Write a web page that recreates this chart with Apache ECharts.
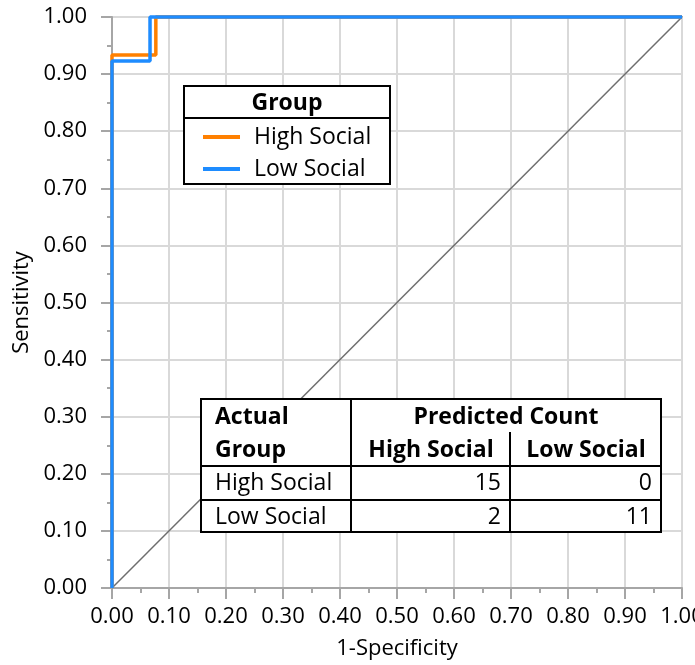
<!DOCTYPE html>
<html>
<head>
<meta charset="utf-8">
<script src="https://cdn.jsdelivr.net/npm/echarts@6/dist/echarts.min.js"></script>
<style>
html, body { margin: 0; padding: 0; background: #fff; }
#chart { width: 695px; height: 665px; }
</style>
</head>
<body>
<div id="chart"></div>
<script>
// ROC curves (1-Specificity, Sensitivity)
var highSocialRoc = [[0, 0], [0, 0.9333], [0.0769, 0.9333], [0.0769, 1], [1, 1]];
var lowSocialRoc = [[0, 0], [0, 0.9231], [0.0667, 0.9231], [0.0667, 1], [1, 1]];
var diagonal = [[0, 0], [1, 1]];

var groupNames = ['High Social', 'Low Social'];
var groupColors = ['#FF8000', '#1E8CFF'];
var predictedCounts = [[15, 0], [2, 11]]; // rows: actual, cols: predicted

var FONT = 'Open Sans';
var FS = 22;

var myChart = echarts.init(document.getElementById('chart'));

function txt(x, y, s, opts) {
	opts = opts || {};
	return {
		type: 'text', x: x, y: y, z: 20,
		style: {
			text: s, fill: '#000', fontFamily: FONT, fontSize: opts.size || 23,
			fontWeight: opts.bold ? 'bold' : 'normal',
			align: opts.align || 'left', verticalAlign: 'middle'
		}
	};
}
function line(x1, y1, x2, y2, color, w) {
	return {
		type: 'line', z: 20,
		shape: { x1: x1, y1: y1, x2: x2, y2: y2 },
		style: { stroke: color || '#000', lineWidth: w || 2 }
	};
}

// legend box
var graphics = [
	{ type: 'rect', z: 19, shape: { x: 184, y: 86, width: 206, height: 98 },
	  style: { fill: '#fff', stroke: '#000', lineWidth: 2 } },
	line(184, 118, 390, 118),
	txt(287, 103, 'Group', { bold: true, align: 'center' })
];
groupNames.forEach(function(name, i) {
	var y = 137 + i * 32;
	graphics.push(line(203, y, 240, y, groupColors[i], 4));
	graphics.push(txt(254, y, name));
});

// classification table
graphics.push(
	{ type: 'rect', z: 19, shape: { x: 201, y: 399, width: 460, height: 133 },
	  style: { fill: '#fff', stroke: '#000', lineWidth: 2 } },
	line(351, 399, 351, 532),
	line(510, 432, 510, 532),
	line(201, 466, 661, 466),
	line(201, 500, 661, 500),
	txt(215, 417, 'Actual', { bold: true }),
	txt(215, 450, 'Group', { bold: true }),
	txt(506, 417, 'Predicted Count', { bold: true, align: 'center' }),
	txt(431, 450, groupNames[0], { bold: true, align: 'center' }),
	txt(586, 450, groupNames[1], { bold: true, align: 'center' })
);
groupNames.forEach(function(name, i) {
	var y = 483 + i * 34;
	graphics.push(txt(215, y, name));
	graphics.push(txt(501, y, String(predictedCounts[i][0]), { align: 'right' }));
	graphics.push(txt(652, y, String(predictedCounts[i][1]), { align: 'right' }));
});

function valueAxis(name, isX) {
	return {
		type: 'value', min: 0, max: 1, interval: 0.1,
		name: name, nameLocation: 'middle', nameGap: isX ? 50 : 78,
		nameTextStyle: { fontFamily: FONT, fontSize: FS, color: '#000' },
		axisLine: { show: true, lineStyle: { color: '#a6a6a6', width: 2 } },
		axisTick: { show: true, inside: false, length: 11, lineStyle: { color: '#a6a6a6', width: 2 } },
		minorTick: { show: true, splitNumber: 2, length: 5, lineStyle: { color: '#a6a6a6', width: 2 } },
		splitLine: { show: true, lineStyle: { color: '#d9d9d9', width: 2 } },
		axisLabel: {
			fontFamily: FONT, fontSize: FS, color: '#000', margin: isX ? 18 : 25,
			formatter: function(v) { return v.toFixed(2); }
		}
	};
}

var option = {
	animation: false,
	backgroundColor: '#fff',
	grid: {
		left: 112, right: 13, top: 17, bottom: 77,
		outerBoundsMode: 'none',
		show: true, borderColor: '#a6a6a6', borderWidth: 2
	},
	xAxis: valueAxis('1-Specificity', true),
	yAxis: valueAxis('Sensitivity', false),
	series: [
		{ type: 'line', data: diagonal, symbol: 'none', clip: false, z: 3,
		  lineStyle: { color: '#6e6e6e', width: 1.5 } },
		{ type: 'line', name: groupNames[0], data: highSocialRoc, symbol: 'none', clip: false, z: 4,
		  lineStyle: { color: groupColors[0], width: 3.5 } },
		{ type: 'line', name: groupNames[1], data: lowSocialRoc, symbol: 'none', clip: false, z: 5,
		  lineStyle: { color: groupColors[1], width: 3.5 } }
	],
	graphic: graphics
};
myChart.setOption(option);
</script>
</body>
</html>
